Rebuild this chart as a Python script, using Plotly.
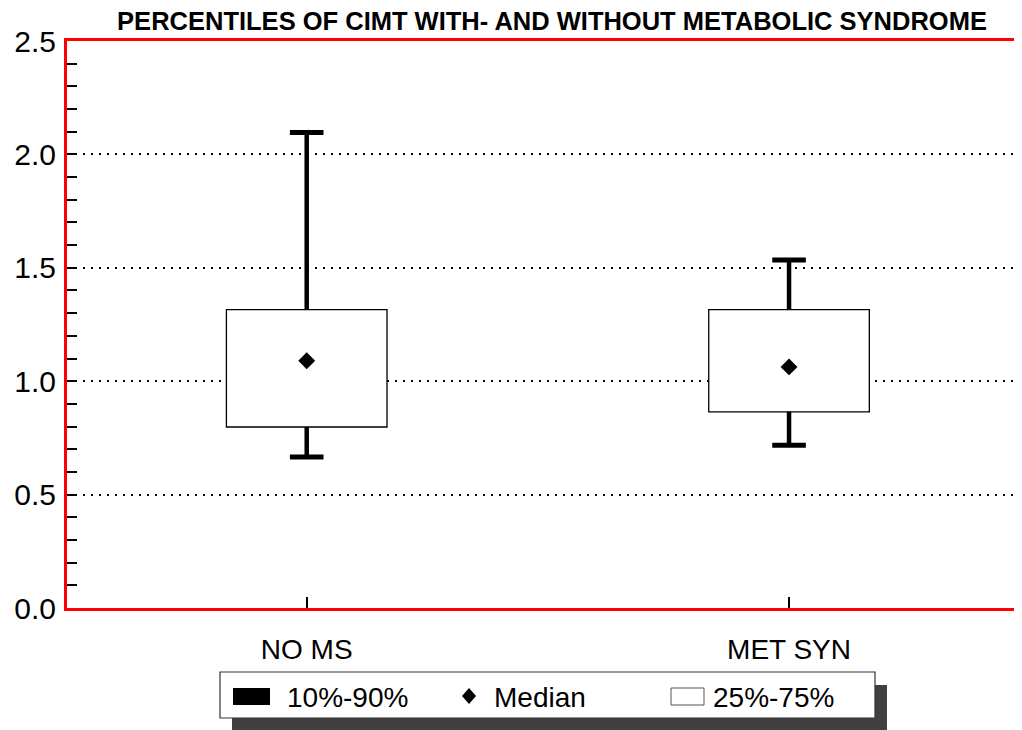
import plotly.graph_objects as go

# ---- data ----
categories = ["NO MS", "MET SYN"]
p10 = [0.666, 0.718]
q1 = [0.798, 0.865]
median = [1.090, 1.063]
q3 = [1.316, 1.316]
p90 = [2.097, 1.534]
y_ticks = [0.0, 0.5, 1.0, 1.5, 2.0, 2.5]
y_ticktext = ["0.0", "0.5", "1.0", "1.5", "2.0", "2.5"]
legend_labels = ["10%-90%", "Median", "25%-75%"]
title_text = "PERCENTILES OF CIMT WITH- AND WITHOUT METABOLIC SYNDROME"

OFF = 8  # page body margin
W, H = 1022 - OFF, 730 - OFF
ML, MR, MT, MB = 67 - OFF, 0, 41 - OFF, 122
PW, PH = W - ML - MR, H - MT - MB
FONT = "Liberation Sans, Arial, sans-serif"

xpos = list(range(len(categories)))

fig = go.Figure()

# boxes (25%-75%)
fig.add_trace(go.Bar(
    x=xpos, y=[b - a for a, b in zip(q1, q3)], base=q1, width=0.333,
    marker=dict(color="white", line=dict(color="black", width=1.3)),
    showlegend=False, hoverinfo="skip"))

# whiskers
wx, wy = [], []
for i in xpos:
    wx += [i, i, None, i, i, None]
    wy += [q3[i], p90[i], None, q1[i], p10[i], None]
fig.add_trace(go.Scatter(x=wx, y=wy, mode="lines",
                         line=dict(color="black", width=4.5),
                         showlegend=False, hoverinfo="skip"))
# caps
fig.add_trace(go.Scatter(
    x=xpos + xpos, y=p90 + p10, mode="markers",
    marker=dict(symbol="line-ew", size=24, line=dict(color="black", width=5)),
    showlegend=False, hoverinfo="skip"))
# medians
fig.add_trace(go.Scatter(
    x=xpos, y=median, mode="markers",
    marker=dict(symbol="diamond", size=13, color="black"),
    showlegend=False, hoverinfo="skip"))


def px2paper(px, py):
    # px, py are page pixel coordinates
    return (px - OFF - ML) / PW, (H - MB - (py - OFF)) / PH


shapes = []


def rect(x0, y0, x1, y1, fill, line_color=None, lw=0):
    a, b = px2paper(x0, y0)
    c, d = px2paper(x1, y1)
    shapes.append(dict(type="rect", xref="paper", yref="paper",
                       x0=a, y0=d, x1=c, y1=b, fillcolor=fill,
                       line=dict(color=line_color or fill, width=lw),
                       layer="above"))


# legend box with shadow
rect(232, 685, 887, 731, "#404040")
rect(220, 672, 875, 718, "white", "#333333", 1.2)
rect(233, 688, 270, 705, "black")
rect(671, 688, 704, 705, "white", "#555555", 1)
# diamond symbol
cx, cy = 469, 696
pts = [(cx, cy - 8), (cx + 7, cy), (cx, cy + 8), (cx - 7, cy)]
pp = [px2paper(*p) for p in pts]
path = "M " + " L ".join(f"{a},{b}" for a, b in pp) + " Z"
shapes.append(dict(type="path", xref="paper", yref="paper", path=path,
                   fillcolor="black", line=dict(color="black", width=0),
                   layer="above"))

annotations = []
for label, px in zip(legend_labels, [285, 492, 711]):
    a, b = px2paper(px, 697)
    annotations.append(dict(text=label, xref="paper", yref="paper", x=a, y=b,
                            xanchor="left", yanchor="middle", showarrow=False,
                            font=dict(family=FONT, size=28, color="black")))

fig.update_layout(
    width=W, height=H,
    margin=dict(l=ML, r=MR, t=MT, b=MB, pad=0),
    paper_bgcolor="white", plot_bgcolor="white",
    barmode="overlay",
    showlegend=False,
    title=dict(text="<b>" + title_text + "</b>", xref="container", yref="container",
               x=(552 - OFF) / W, y=1 - (21 - OFF) / H, xanchor="center", yanchor="middle",
               font=dict(family=FONT, size=25.5, color="black")),
    xaxis=dict(range=[-0.497, 1.483], tickvals=xpos, ticktext=categories,
               showgrid=False, zeroline=False,
               showline=True, linecolor="red", linewidth=3, mirror=True,
               ticks="inside", ticklen=11, tickwidth=2, tickcolor="black",
               ticklabelstandoff=14,
               tickfont=dict(family=FONT, size=28, color="black")),
    yaxis=dict(range=[0, 2.5], tickvals=y_ticks, ticktext=y_ticktext,
               showgrid=True, gridcolor="black", gridwidth=1.5, griddash="2px,6px",
               zeroline=False,
               showline=True, linecolor="red", linewidth=3, mirror=False,
               ticks="inside", ticklen=10, tickwidth=1.5, tickcolor="black",
               ticklabelstandoff=2,
               minor=dict(dtick=0.1, ticks="inside", ticklen=10, tickwidth=1.5,
                          tickcolor="black", showgrid=False),
               tickfont=dict(family=FONT, size=30, color="black")),
    shapes=shapes, annotations=annotations,
)

fig.write_html("out.html")
